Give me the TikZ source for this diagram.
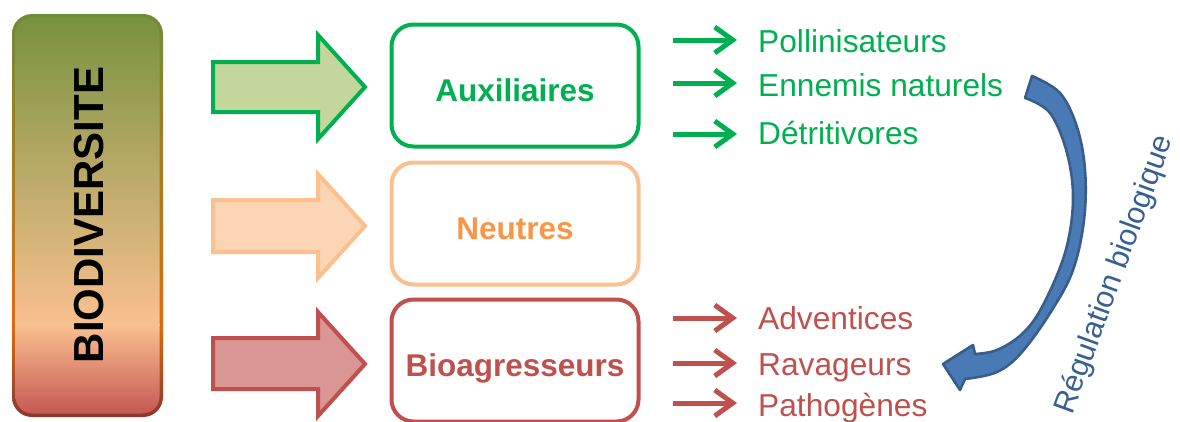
\documentclass[tikz,border=0pt]{standalone}
\usepackage{fontspec}
\setmainfont{Liberation Sans}
\usetikzlibrary{arrows.meta}
\definecolor{grn}{RGB}{0,176,80}
\definecolor{grnfill}{RGB}{195,214,155}
\definecolor{pch}{RGB}{250,192,144}
\definecolor{pchfill}{RGB}{252,213,181}
\definecolor{pchtext}{RGB}{247,150,70}
\definecolor{redl}{RGB}{192,80,77}
\definecolor{redfill}{RGB}{217,150,148}
\definecolor{blu}{RGB}{74,122,181}
\definecolor{bluline}{RGB}{56,93,138}
\definecolor{blutext}{RGB}{55,96,146}
\definecolor{fG}{RGB}{118,146,62}
\definecolor{fP}{RGB}{250,192,144}
\definecolor{fR}{RGB}{195,85,80}
\definecolor{bG}{RGB}{112,140,55}
\definecolor{bO}{RGB}{222,108,15}
\definecolor{bR}{RGB}{140,55,45}
\begin{document}
\begin{tikzpicture}[x=1pt,y=-1pt,
  catbox/.style={draw, line width=4pt, rounded corners=22pt, minimum width=247pt, minimum height=122pt, inner sep=0pt, font=\fontsize{31.5}{36}\selectfont\bfseries, text height=31.5pt, text depth=0pt},
  item/.style={anchor=base west, inner sep=0pt, font=\fontsize{31.7}{36}\selectfont},
  smallarr/.style={line width=5pt, -{Straight Barb[length=18pt,width=26pt]}, shorten >=21pt},
  bigarr/.style={line width=4pt, line join=miter},
  curvarr/.style={fill=blu, draw=bluline, line width=2.6pt, line join=round},
]
\useasboundingbox (0,0) rectangle (1180,421);
\begin{scope}
  \clip (0,0) rectangle (1180,421);
  % left gradient bar: border
  \begin{scope}
    \clip[rounded corners=20pt] (12,14) rectangle (163,417);
    \shade[top color=bG, bottom color=bO] (12,14) rectangle (163,322);
    \shade[top color=bO, bottom color=bR] (12,321.5) rectangle (163,417);
  \end{scope}
  \begin{scope}
    \clip[rounded corners=17pt] (15.5,17.5) rectangle (159.5,413.5);
    \shade[top color=fG, bottom color=fP] (12,14) rectangle (163,325);
    \shade[top color=fP, bottom color=fR] (12,324.5) rectangle (163,417);
  \end{scope}
  \node[rotate=90, inner sep=0pt, font=\fontsize{42}{48}\selectfont\bfseries] (bio) at (89,215) {BIODIVERSITE};

  % big block arrows
  \filldraw[bigarr, draw=grn, fill=grnfill] (213,62) -- (318,62) -- (318,35) -- (365,87) -- (318,139) -- (318,112) -- (213,112) -- cycle;
  \filldraw[bigarr, draw=pch, fill=pchfill] (213,200) -- (318,200) -- (318,174) -- (365,226) -- (318,278) -- (318,252) -- (213,252) -- cycle;
  \filldraw[bigarr, draw=redl, fill=redfill] (213,338) -- (318,338) -- (318,312) -- (365,364) -- (318,416) -- (318,389) -- (213,389) -- cycle;

  % category boxes
  \node[catbox, draw=grn, text=grn] (aux) at (515,85.5) {Auxiliaires};
  \node[catbox, draw=pch, text=pchtext] (neu) at (515,223.5) {Neutres};
  \node[catbox, draw=redl, text=redl] (bag) at (515,360.5) {Bioagresseurs};

  % items
  \node[item, text=grn] (t1) at (758,52) {Pollinisateurs};
  \node[item, text=grn] (t2) at (758,96) {Ennemis naturels};
  \node[item, text=grn] (t3) at (758,144) {Détritivores};
  \node[item, text=redl] (t4) at (758,329) {Adventices};
  \node[item, text=redl] (t5) at (758,375) {Ravageurs};
  \node[item, text=redl] (t6) at (758,416) {Pathogènes};

  \coordinate (s1) at (673,40);
  \coordinate (s2) at (673,83);
  \coordinate (s3) at (673,134);
  \coordinate (s4) at (673,318);
  \coordinate (s5) at (673,363);
  \coordinate (s6) at (673,403);
  \draw[smallarr, grn] (s1) -- (s1 -| t1.west);
  \draw[smallarr, grn] (s2) -- (s2 -| t2.west);
  \draw[smallarr, grn] (s3) -- (s3 -| t3.west);
  \draw[smallarr, redl] (s4) -- (s4 -| t4.west);
  \draw[smallarr, redl] (s5) -- (s5 -| t5.west);
  \draw[smallarr, redl] (s6) -- (s6 -| t6.west);

  % curved arrow
  \filldraw[curvarr]
    plot[smooth, tension=0.6] coordinates {(1032,76) (1060,93) (1077,127) (1085,170) (1084,220) (1073,270) (1052,310) (1022,352) (997,372) (965,379)}
    -- (960,390) -- (943,364) -- (973,345)
    -- plot[smooth, tension=0.6] coordinates {(975,354) (997,350) (1022,334) (1042,307) (1065,253) (1073,200) (1067,153) (1050,113) (1025,98)}
    -- cycle;

  \node[rotate=70, inner sep=0pt, text=blutext, font=\fontsize{30.5}{36}\selectfont] (reg) at (1115,275) {Régulation biologique};
\end{scope}
\end{tikzpicture}
\end{document}
